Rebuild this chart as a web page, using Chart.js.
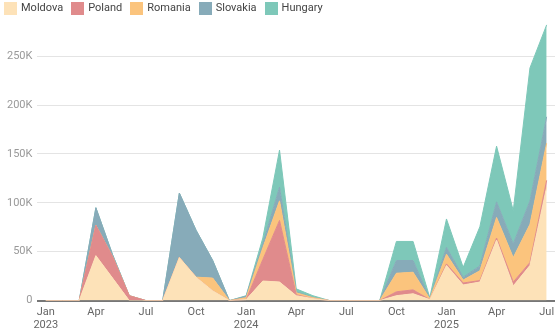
<!DOCTYPE html>
<html>
<head>
<meta charset="utf-8">
<script src="https://cdn.jsdelivr.net/npm/chart.js@4"></script>
<style>
  html, body { margin: 0; padding: 0; background: #fff; }
  #wrap { position: relative; width: 560px; height: 330px; }
  #legend {
    position: absolute; left: 4px; top: 1px;
    display: flex; font: 11px Roboto, sans-serif; color: #444; line-height: 14px;
  }
  #legend .item { display: flex; align-items: center; margin-right: 8px; }
  #legend .box { width: 13px; height: 13px; margin-right: 4px; }
</style>
</head>
<body>
<div id="wrap">
  <canvas id="chart" width="560" height="330"></canvas>
  <div id="legend"></div>
</div>
<script>
// Monthly values, Jan 2023 - Jul 2025
const months = [
  'Jan 2023', 'Feb 2023', 'Mar 2023', 'Apr 2023', 'May 2023', 'Jun 2023',
  'Jul 2023', 'Aug 2023', 'Sep 2023', 'Oct 2023', 'Nov 2023', 'Dec 2023',
  'Jan 2024', 'Feb 2024', 'Mar 2024', 'Apr 2024', 'May 2024', 'Jun 2024',
  'Jul 2024', 'Aug 2024', 'Sep 2024', 'Oct 2024', 'Nov 2024', 'Dec 2024',
  'Jan 2025', 'Feb 2025', 'Mar 2025', 'Apr 2025', 'May 2025', 'Jun 2025',
  'Jul 2025'
];

const moldova = [
  0, 0, 0, 46000, 23000, 0, 0, 0, 44000, 24000, 10000, 0,
  1000, 20000, 19000, 5000, 2000, 0, 0, 0, 0, 5000, 7000, 1000,
  36000, 16000, 19000, 62000, 15000, 36000, 116000
];
const poland = [
  0, 0, 0, 31000, 22000, 5000, 0, 0, 0, 0, 0, 0,
  0, 22000, 63000, 1000, 0, 0, 0, 0, 0, 4000, 4000, 0,
  1500, 2000, 1500, 2000, 4000, 3000, 7000
];
const romania = [
  0, 0, 0, 0, 0, 0, 0, 0, 0, 0, 13000, 0,
  2000, 12000, 20000, 2000, 1000, 0, 0, 0, 0, 19000, 18000, 1000,
  10000, 3000, 10000, 21000, 25000, 39000, 38000
];
const slovakia = [
  0, 0, 0, 18000, 2000, 0, 0, 0, 66000, 48000, 18000, 0,
  1500, 4000, 14000, 1000, 0, 0, 0, 0, 0, 13000, 12000, 0,
  7000, 3000, 5000, 16000, 14000, 24000, 27000
];
const hungary = [
  0, 0, 0, 0, 0, 0, 0, 0, 0, 0, 0, 0,
  500, 6000, 38000, 3000, 2000, 0, 0, 0, 0, 19500, 19500, 1000,
  29000, 10000, 40000, 57000, 34000, 136000, 94000
];

const seriesNames = ['Moldova', 'Poland', 'Romania', 'Slovakia', 'Hungary'];
const seriesData = [moldova, poland, romania, slovakia, hungary];
const colors = ['#fde2b8', '#e08b8c', '#fbc47d', '#87abb9', '#7ec8b9'];
const yTicks = [0, 50000, 100000, 150000, 200000, 250000];

const datasets = seriesNames.map((name, i) => ({
    label: name,
    data: seriesData[i],
    backgroundColor: colors[i],
    borderColor: colors[i],
    borderWidth: 1,
    pointRadius: 0,
    tension: 0,
    fill: i === 0 ? 'origin' : '-1'
}));

// html legend
const legend = document.getElementById('legend');
seriesNames.forEach((name, i) => {
    const item = document.createElement('div');
    item.className = 'item';
    item.innerHTML = '<span class="box" style="background:' + colors[i] + '"></span>' + name;
    legend.appendChild(item);
});

new Chart(document.getElementById('chart').getContext('2d'), {
    type: 'line',
    data: { labels: months, datasets: datasets },
    options: {
        responsive: false,
        animation: false,
        layout: { padding: { top: 20, right: 5, left: 2, bottom: -7 } },
        plugins: {
            legend: { display: false },
            tooltip: { enabled: false }
        },
        scales: {
            x: {
                offset: true,
                grid: { display: false, drawTicks: false },
                border: { display: false },
                ticks: {
                    autoSkip: false,
                    maxRotation: 0,
                    color: '#666',
                    padding: 5,
                    font: { family: 'Roboto', size: 11, lineHeight: 1.2 },
                    callback: function(value, index) {
                        if (index % 3 !== 0) return '';
                        const parts = months[index].split(' ');
                        return parts[0] === 'Jan' ? parts : parts[0];
                    }
                }
            },
            y: {
                stacked: true,
                min: 0,
                max: 287000,
                border: { display: false },
                grid: {
                    drawTicks: false,
                    color: ctx => ctx.tick && ctx.tick.value === 0 ? '#777' : '#e4e4e4',
                    lineWidth: ctx => ctx.tick && ctx.tick.value === 0 ? 2 : 1
                },
                afterBuildTicks: axis => {
                    axis.ticks = yTicks.map(v => ({ value: v }));
                },
                ticks: {
                    color: '#999',
                    padding: 5,
                    font: { family: 'Roboto', size: 11 },
                    callback: v => v === 0 ? '0' : (v / 1000) + 'K'
                }
            }
        }
    }
});
</script>
</body>
</html>
